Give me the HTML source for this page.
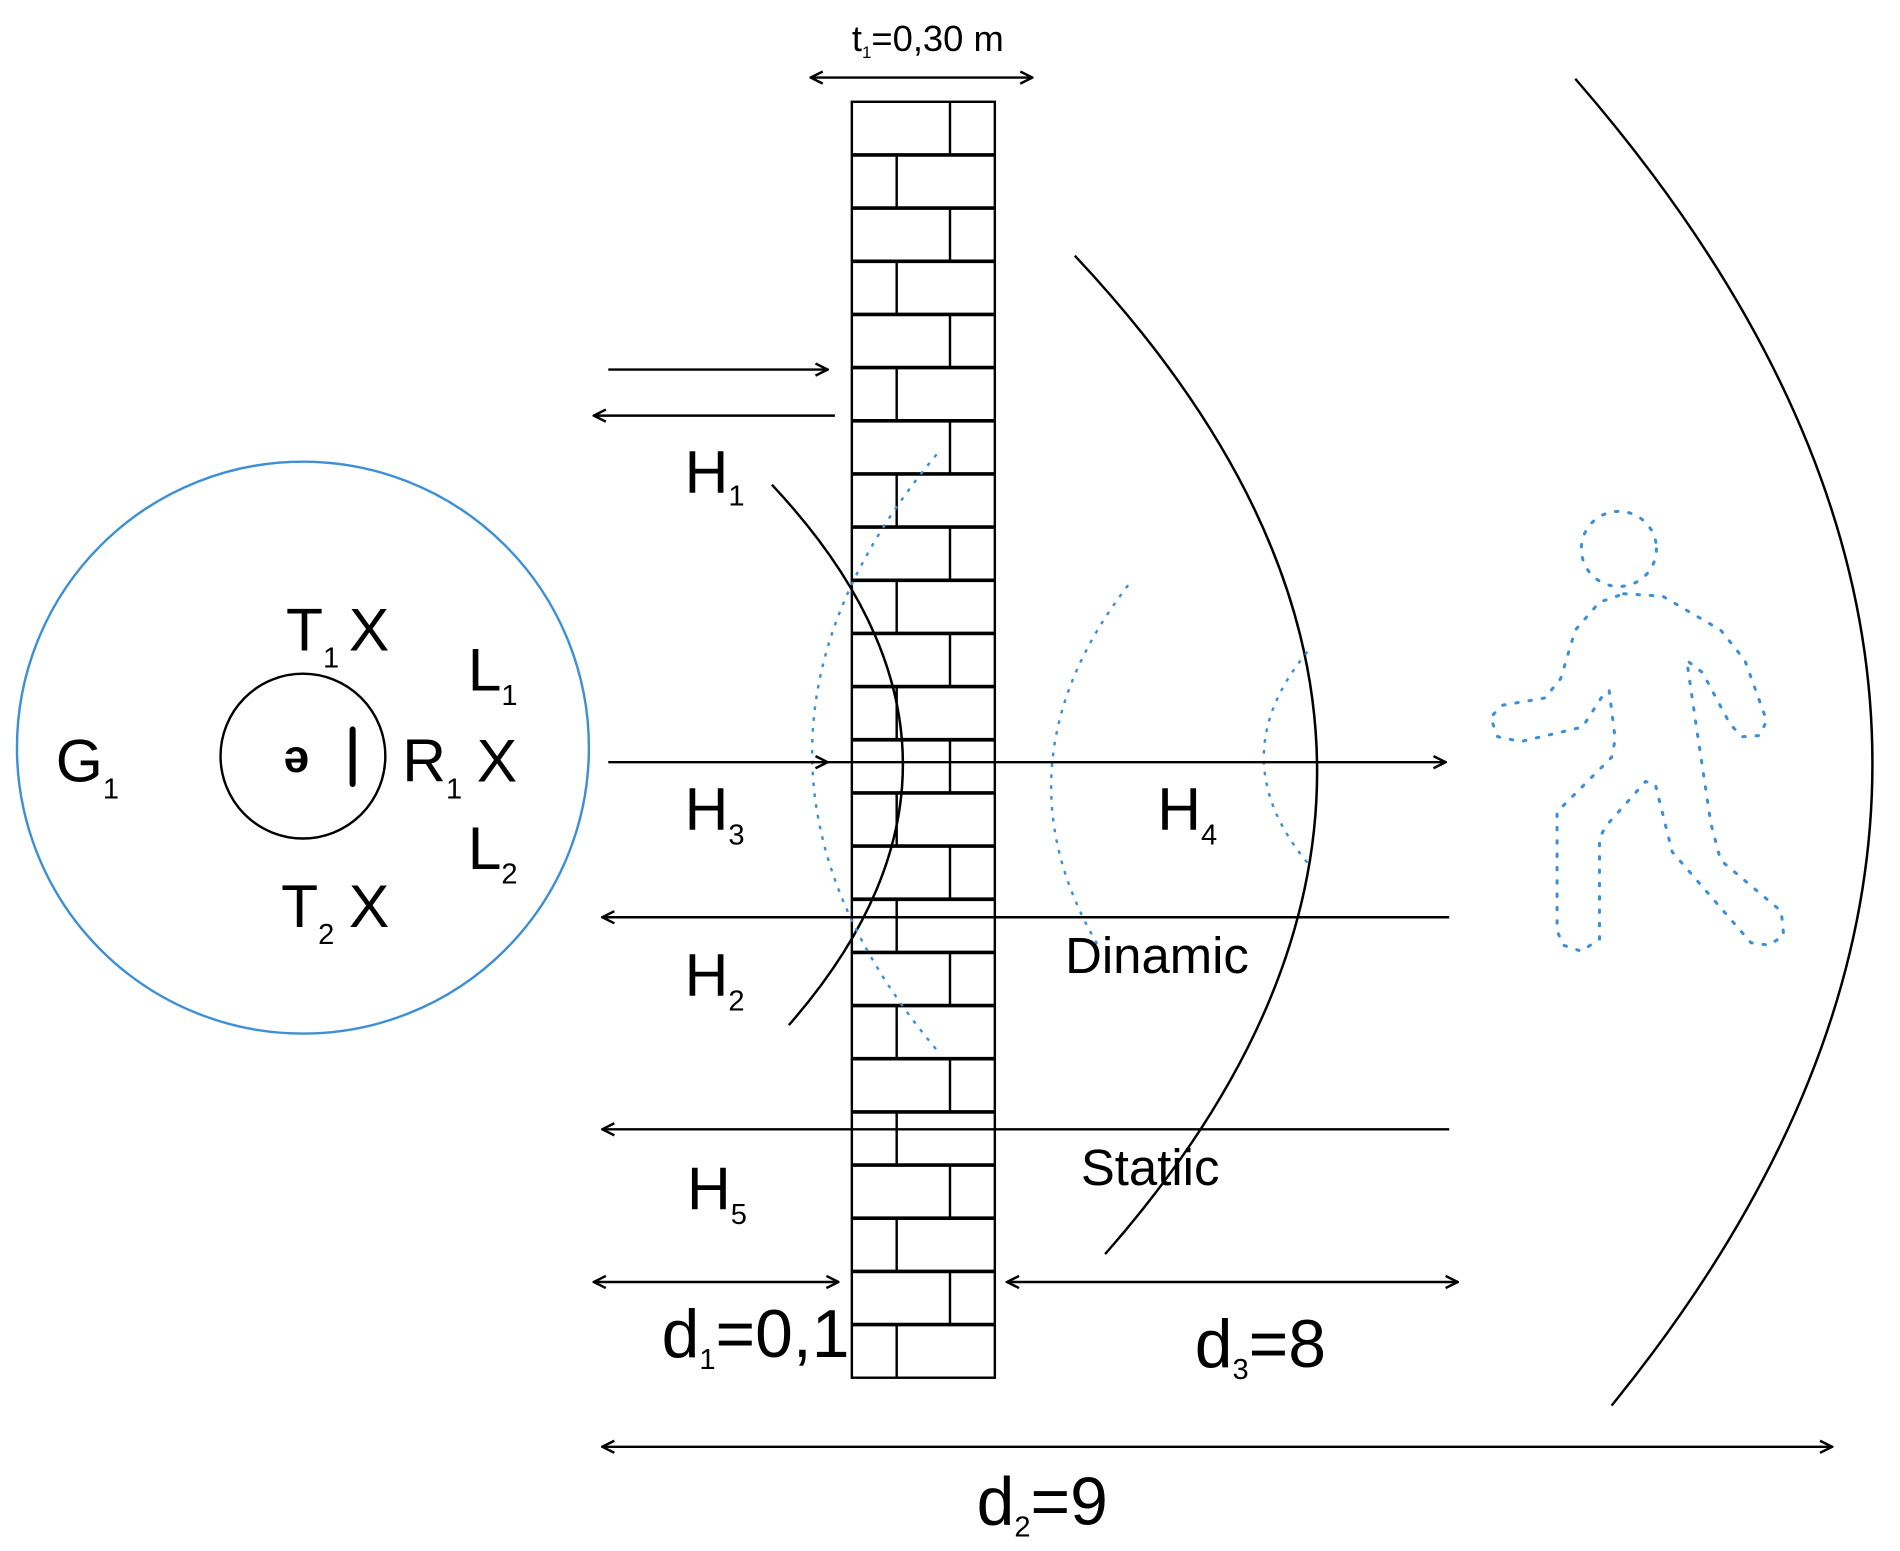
<!DOCTYPE html>
<html><head><meta charset="utf-8"><style>
html,body{margin:0;padding:0;background:#fff}
svg{display:block}
text{font-family:"Liberation Sans",sans-serif;fill:#000}
</style></head><body>
<svg id="d" width="1900" height="1551" viewBox="0 0 1568 1280" preserveAspectRatio="none" xmlns="http://www.w3.org/2000/svg">
<defs>
<marker id="ah" viewBox="0 0 12 12" refX="11" refY="6" markerWidth="12" markerHeight="12" markerUnits="userSpaceOnUse" orient="auto-start-reverse">
<path d="M1,1 L11,6 L1,11" fill="none" stroke="#000" stroke-width="2"/>
</marker>
</defs>
<g id="wall"></g>

<circle cx="250" cy="617" r="236" fill="none" stroke="#3d8fd6" stroke-width="2"/>
<circle cx="250" cy="624" r="68" fill="none" stroke="#000" stroke-width="2"/>
<text x="234" y="637" font-size="38" font-weight="bold">ə</text>
<line x1="291" y1="602" x2="291" y2="647" stroke="#000" stroke-width="5" stroke-linecap="round"/>

<g font-size="50">
<text x="46" y="645">G<tspan font-size="24" dy="14">1</tspan></text>
<text x="236" y="537">T<tspan font-size="24" dy="14">1</tspan><tspan dy="-14" dx="8">X</tspan></text>
<text x="386" y="570">L<tspan font-size="24" dy="12">1</tspan></text>
<text x="332" y="645">R<tspan font-size="24" dy="14">1</tspan><tspan dy="-14" dx="12">X</tspan></text>
<text x="386" y="717">L<tspan font-size="24" dy="12">2</tspan></text>
<text x="232" y="765">T<tspan font-size="24" dy="14">2</tspan><tspan dy="-14" dx="12">X</tspan></text>
</g>

<g fill="none" stroke="#000" stroke-width="2">
<path d="M637,400 Q846,623 651,846"/>
<path d="M887,211 Q1274,623 912,1035"/>
<path d="M1300,65 Q1775,612 1330,1160"/>
</g>
<g fill="none" stroke="#3d8fd6" stroke-width="2" stroke-dasharray="3,6">
<path d="M773,375 Q566,623 776,870"/>
<path d="M931,483 Q818,630 906,780"/>
<path d="M1079,538 Q1007,625 1079,712"/>
</g>

<g fill="none" stroke="#3d8fd6" stroke-width="2.5" stroke-dasharray="2,9" stroke-linecap="round">
<circle cx="1336" cy="453" r="31"/>
<path d="M1340,490 L1372,492 L1420,520 L1440,545 L1458,595 L1452,607 L1438,608 L1428,598 L1405,555 L1392,545 L1400,600 L1412,680 L1420,710 L1470,752 L1472,772 L1460,780 L1445,778 L1380,703 L1366,647 L1358,645 L1325,682 L1320,692 L1320,775 L1305,785 L1290,780 L1285,768 L1285,670 L1330,625 L1333,610 L1328,570 L1324,572 L1306,600 L1255,612 L1236,608 L1230,592 L1240,582 L1275,576 L1288,560 L1300,520 L1320,497 Z"/>
</g>

<g stroke="#000" stroke-width="2" fill="none">
<line x1="502" y1="305" x2="683" y2="305" marker-end="url(#ah)"/>
<line x1="689" y1="343" x2="490" y2="343" marker-end="url(#ah)"/>
<line x1="502" y1="629" x2="683" y2="629" marker-end="url(#ah)"/>
<line x1="683" y1="629" x2="1193" y2="629" marker-end="url(#ah)"/>
<line x1="1196" y1="757" x2="497" y2="757" marker-end="url(#ah)"/>
<line x1="1196" y1="932" x2="497" y2="932" marker-end="url(#ah)"/>
<line x1="490" y1="1058" x2="692" y2="1058" marker-start="url(#ah)" marker-end="url(#ah)"/>
<line x1="831" y1="1058" x2="1203" y2="1058" marker-start="url(#ah)" marker-end="url(#ah)"/>
<line x1="497" y1="1194" x2="1512" y2="1194" marker-start="url(#ah)" marker-end="url(#ah)"/>
<line x1="669" y1="64" x2="852" y2="64" marker-start="url(#ah)" marker-end="url(#ah)"/>
</g>

<g font-size="50">
<text x="565" y="407">H<tspan font-size="24" dy="10">1</tspan></text>
<text x="565" y="685">H<tspan font-size="24" dy="12">3</tspan></text>
<text x="955" y="685">H<tspan font-size="24" dy="12">4</tspan></text>
<text x="565" y="822">H<tspan font-size="24" dy="12">2</tspan></text>
<text x="567" y="998">H<tspan font-size="24" dy="12">5</tspan></text>
<text x="879" y="803" font-size="42">Dinamic</text>
<text x="892" y="978" font-size="42">Statiic</text>
<text x="546" y="1120" font-size="56">d<tspan font-size="24" dy="10">1</tspan><tspan dy="-10">=0,1</tspan></text>
<text x="986" y="1128" font-size="56">d<tspan font-size="24" dy="10">3</tspan><tspan dy="-10">=8</tspan></text>
<text x="806" y="1258" font-size="56">d<tspan font-size="24" dy="10">2</tspan><tspan dy="-10">=9</tspan></text>
<text x="703" y="42" font-size="30">t<tspan font-size="14" dy="6">1</tspan><tspan dy="-6">=0,30 m</tspan></text>
</g>
</svg>
<script>
var g=document.getElementById('wall');
var ns='http://www.w3.org/2000/svg';
var x0=703,x1=821,y0=84,y1=1137,rows=24,h=(y1-y0)/rows;
var r=document.createElementNS(ns,'rect');
r.setAttribute('x',x0);r.setAttribute('y',y0);r.setAttribute('width',x1-x0);r.setAttribute('height',y1-y0);
r.setAttribute('fill','none');r.setAttribute('stroke','#000');r.setAttribute('stroke-width','2');


g.appendChild(r);
for(var i=0;i<rows;i++){
  var yt=y0+i*h;
  if(i>0){
    var l=document.createElementNS(ns,'line');
    l.setAttribute('x1',x0);l.setAttribute('x2',x1);l.setAttribute('y1',yt);l.setAttribute('y2',yt);
    l.setAttribute('stroke','#000');l.setAttribute('stroke-width','3');
    
    
    g.appendChild(l);
  }
  var vx=(i%2===0)?784:740;
  var v=document.createElementNS(ns,'line');
  v.setAttribute('x1',vx);v.setAttribute('x2',vx);v.setAttribute('y1',yt);v.setAttribute('y2',yt+h);
  v.setAttribute('stroke','#000');v.setAttribute('stroke-width','2');
  
  
  g.appendChild(v);
}
</script>
</body></html>
